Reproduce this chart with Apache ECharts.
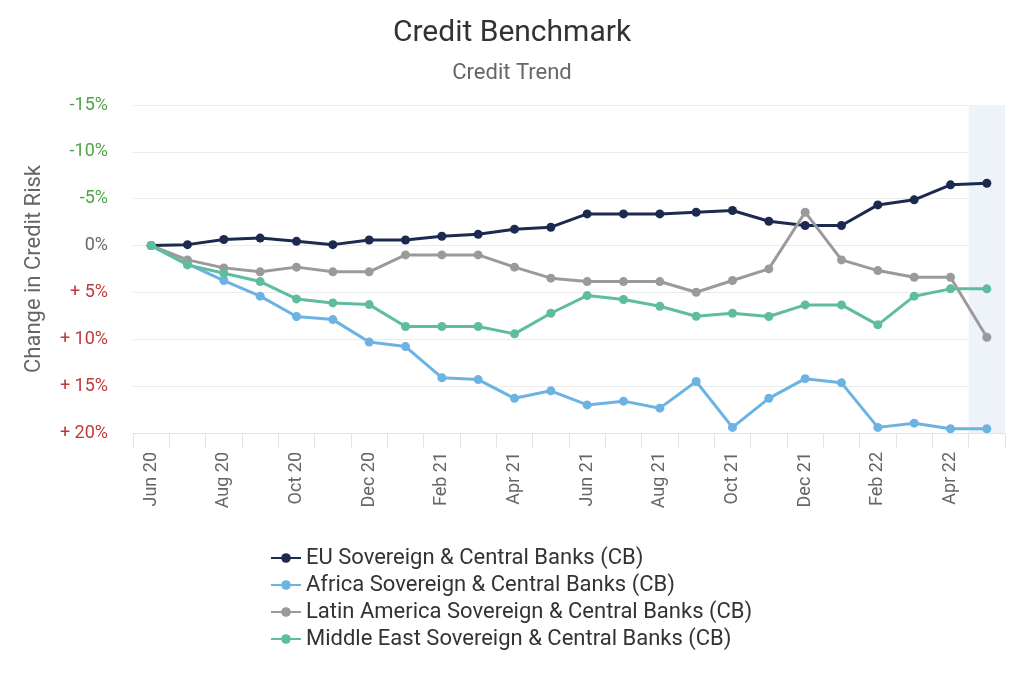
<!DOCTYPE html>
<html>
<head>
<meta charset="utf-8">
<script src="https://cdn.jsdelivr.net/npm/echarts@6/dist/echarts.min.js"></script>
<style>
html,body{margin:0;padding:0;background:#fff;}
#chart{width:1024px;height:683px;}
</style>
</head>
<body>
<div id="chart"></div>
<script>
const categories = ['Jun 20','Jul 20','Aug 20','Sep 20','Oct 20','Nov 20','Dec 20','Jan 21','Feb 21','Mar 21','Apr 21','May 21','Jun 21','Jul 21','Aug 21','Sep 21','Oct 21','Nov 21','Dec 21','Jan 22','Feb 22','Mar 22','Apr 22','May 22'];
const euValues = [0, -0.1, -0.65, -0.8, -0.45, -0.1, -0.6, -0.6, -1.0, -1.2, -1.75, -1.96, -3.38, -3.38, -3.38, -3.56, -3.74, -2.6, -2.14, -2.14, -4.34, -4.88, -6.48, -6.65];
const africaValues = [0, 1.95, 3.73, 5.4, 7.57, 7.9, 10.3, 10.78, 14.1, 14.3, 16.3, 15.5, 17.0, 16.6, 17.35, 14.5, 19.4, 16.3, 14.2, 14.65, 19.4, 18.95, 19.55, 19.55];
const latamValues = [0, 1.53, 2.38, 2.8, 2.3, 2.8, 2.8, 1.0, 1.0, 1.0, 2.3, 3.48, 3.84, 3.84, 3.84, 4.98, 3.73, 2.49, -3.56, 1.53, 2.67, 3.38, 3.38, 9.78];
const mideastValues = [0, 2.06, 2.95, 3.84, 5.69, 6.12, 6.3, 8.64, 8.64, 8.64, 9.42, 7.22, 5.34, 5.76, 6.47, 7.54, 7.22, 7.57, 6.33, 6.33, 8.46, 5.4, 4.62, 4.62];
const highlightValues = [null,null,null,null,null,null,null,null,null,null,null,null,null,null,null,null,null,null,null,null,null,null,null,1];
const seriesNames = ['EU Sovereign & Central Banks (CB)','Africa Sovereign & Central Banks (CB)','Latin America Sovereign & Central Banks (CB)','Middle East Sovereign & Central Banks (CB)'];
const seriesColors = ['#1b2a4e','#6cb2e2','#9a9a9a','#5dbd9e'];

const FONT = 'Roboto';
const chart = echarts.init(document.getElementById('chart'), null, {renderer:'canvas'});
const values = [euValues, africaValues, latamValues, mideastValues];

const lineSeries = values.map((v,i)=>({
  name: seriesNames[i],
  type: 'line',
  data: v,
  symbol: 'circle',
  symbolSize: 9,
  lineStyle: {width: 3, color: seriesColors[i]},
  itemStyle: {color: seriesColors[i]},
  z: 3 + i
}));

chart.setOption({
  animation: false,
  textStyle: {fontFamily: FONT},
  title: {
    text: 'Credit Benchmark',
    subtext: 'Credit Trend',
    left: 'center',
    top: 13,
    itemGap: 14,
    textStyle: {fontFamily: FONT, fontSize: 30, fontWeight: 'normal', color: '#333'},
    subtextStyle: {fontFamily: FONT, fontSize: 22, color: '#666'}
  },
  legend: {
    data: seriesNames,
    orient: 'vertical',
    left: 265,
    top: 542,
    itemWidth: 30,
    itemHeight: 12,
    itemGap: 5,
    textStyle: {fontFamily: FONT, fontSize: 22, color: '#333', lineHeight: 22}
  },
  grid: {left: 133, right: 19, top: 105, bottom: 250, containLabel: false},
  xAxis: {
    type: 'category',
    data: categories,
    boundaryGap: true,
    axisLine: {onZero: false, lineStyle: {color: '#e3e3e3', width: 1}},
    axisTick: {show: true, interval: 0, length: 15, lineStyle: {color: '#e3e3e3'}},
    axisLabel: {rotate: 90, interval: 1, margin: 19, fontFamily: FONT, fontSize: 18, color: '#666'},
    splitLine: {show: false}
  },
  yAxis: [{
    type: 'value',
    inverse: true,
    min: -15,
    max: 20,
    interval: 5,
    name: 'Change in Credit Risk',
    nameLocation: 'middle',
    nameGap: 88,
    nameRotate: 90,
    nameTextStyle: {fontFamily: FONT, fontSize: 22, color: '#666'},
    axisLine: {show: false},
    axisTick: {show: false},
    axisLabel: {
      margin: 25,
      fontFamily: FONT,
      fontSize: 18,
      formatter: function(v){
        if (v < 0) return '{neg|' + v + '%}';
        if (v > 0) return '{pos|+ ' + v + '%}';
        return '{zero|0%}';
      },
      rich: {
        neg: {color: '#4ea545', fontFamily: FONT, fontSize: 18},
        pos: {color: '#c0393a', fontFamily: FONT, fontSize: 18},
        zero: {color: '#666', fontFamily: FONT, fontSize: 18}
      }
    },
    splitLine: {lineStyle: {color: '#ebebeb', width: 1}}
  },{
    type: 'value',
    min: 0, max: 1,
    show: false
  }],
  series: [{
    name: 'highlight',
    type: 'bar',
    yAxisIndex: 1,
    data: highlightValues,
    barWidth: '100%',
    itemStyle: {color: '#eef3fa'},
    silent: true,
    z: 0
  }].concat(lineSeries)
});
</script>
</body>
</html>
